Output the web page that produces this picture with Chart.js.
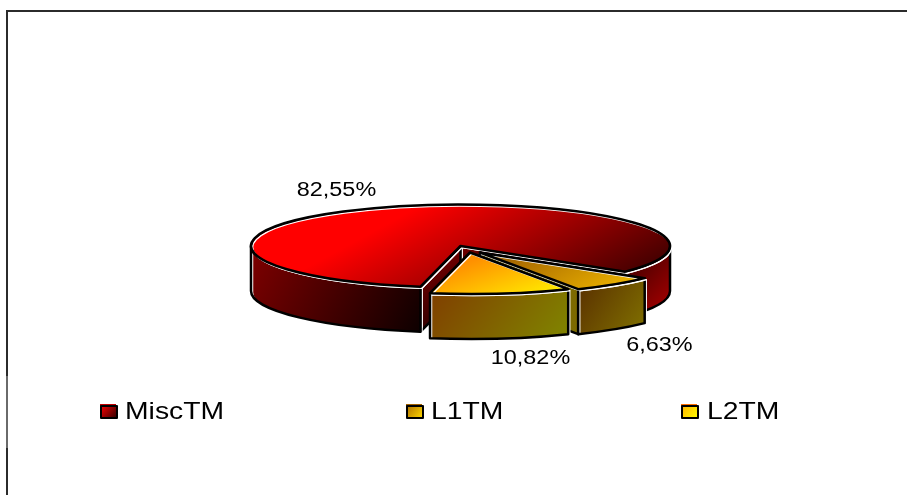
<!DOCTYPE html>
<html>
<head>
<meta charset="utf-8">
<style>
  html, body { margin: 0; padding: 0; background: #fff; }
  #wrap { width: 907px; height: 495px; position: relative; }
</style>
<script src="https://cdn.jsdelivr.net/npm/chart.js@4"></script>
</head>
<body>
<div id="wrap"><canvas id="chart" width="907" height="495"></canvas></div>
<script>
const categories = ['MiscTM', 'L1TM', 'L2TM'];
const shares = [82.55, 6.63, 10.82];

const CX = 460.5, CY = 246, RX = 209.5, RY = 41.5, DEPTH = 45;
const SQUASH = RY / RX;
const FONT = '"Liberation Sans", Arial, sans-serif';

const canvas = document.getElementById('chart');
const c2d = canvas.getContext('2d');

// Screen-space linear gradient, expressed in the unsquashed space the arcs are filled in.
function topGradient(ax, ay, bx, by, from, to) {
  const dx = bx - ax, dy = by - ay, len2 = dx * dx + dy * dy;
  const gx = dx / len2, gy = dy * SQUASH / len2, g2 = gx * gx + gy * gy;
  const y0 = CY + (ay - CY) / SQUASH;
  const g = c2d.createLinearGradient(ax, y0, ax + gx / g2, y0 + gy / g2);
  g.addColorStop(0, from);
  g.addColorStop(1, to);
  return g;
}
function gradient(ax, ay, bx, by, from, to) {
  const g = c2d.createLinearGradient(ax, ay, bx, by);
  g.addColorStop(0, from);
  g.addColorStop(1, to);
  return g;
}

// Slice appearance: pull-out offset in pixels, face fills, label placement.
const sliceStyles = [
  {
    shift: [0, 0],
    top: topGradient(385, 225, 462, 367, '#ff0000', '#460000'),
    walls: [gradient(250, 245, 425, 335, '#800000', '#0a0000'), gradient(640, 270, 672, 300, '#5a0000', '#a00000')],
    cut: gradient(425, 250, 465, 330, '#800000', '#200000'),
    label: [336.5, 190]
  },
  {
    shift: [19.5, 6.5],
    top: topGradient(480, 250, 535, 346, '#a06000', '#ffc800'),
    walls: [gradient(578, 285, 645, 330, '#5a3000', '#807000')],
    cut: '#7d6a00',
    label: [659.5, 345]
  },
  {
    shift: [9.5, 6.5],
    top: topGradient(468, 252, 492.5, 318, '#ff9000', '#ffff00'),
    walls: [gradient(432, 295, 530, 370, '#804000', '#808000')],
    cut: '#804000',
    label: [530.5, 358]
  }
];

const legendItems = [
  { box: 100, text: 125, from: '#ff0000', to: '#300000', edge: '#c00000' },
  { box: 406, text: 431, from: '#b07000', to: '#ffd800', edge: '#a06000' },
  { box: 681, text: 707, from: '#ffb000', to: '#ffff00', edge: '#ff7000' }
];
const LABEL_STRETCH = 1.17;
const LEGEND_STRETCH = 1.18;

// Parts of [start, end] that lie on the near half of the rim.
function nearRanges(start, end) {
  const out = [];
  for (let k = 0; k < 3; k++) {
    const a = Math.max(start, k * 2 * Math.PI), b = Math.min(end, k * 2 * Math.PI + Math.PI);
    if (b > a) out.push([a, b]);
  }
  return out;
}

function outline(ctx, buildPath, width) {
  ctx.save();
  ctx.lineJoin = 'round';
  ctx.translate(1.5, 1.5);
  buildPath();
  ctx.strokeStyle = '#fff';
  ctx.lineWidth = 1.5;
  ctx.stroke();
  ctx.restore();
  buildPath();
  ctx.lineJoin = 'round';
  ctx.strokeStyle = '#000';
  ctx.lineWidth = width;
  ctx.stroke();
}

function paintFace(ctx, buildPath, fill, width) {
  buildPath();
  ctx.fillStyle = fill;
  ctx.fill();
  outline(ctx, buildPath, width);
}

function drawCutWall(ctx, c, r, angle, fill) {
  const ex = c.x + Math.cos(angle) * r, ey = c.y + Math.sin(angle) * r * SQUASH;
  paintFace(ctx, () => {
    ctx.beginPath();
    ctx.moveTo(c.x, c.y);
    ctx.lineTo(ex, ey);
    ctx.lineTo(ex, ey + DEPTH);
    ctx.lineTo(c.x, c.y + DEPTH);
    ctx.closePath();
  }, fill, 2.5);
}

function drawSlice(ctx, el, style, cutAngle) {
  const c = { x: el.x + style.shift[0], y: CY + style.shift[1] };
  const r = el.outerRadius;
  const ry = r * SQUASH;

  cutAngle.forEach(a => drawCutWall(ctx, c, r, a, style.cut));

  nearRanges(el.startAngle, el.endAngle).forEach(([a, b], i) => {
    paintFace(ctx, () => {
      ctx.beginPath();
      ctx.ellipse(c.x, c.y, r, ry, 0, a, b);
      ctx.ellipse(c.x, c.y + DEPTH, r, ry, 0, b, a, true);
      ctx.closePath();
    }, style.walls[Math.min(i, style.walls.length - 1)], 2.5);
  });

  // The top face is the library's own arc element, drawn through a flattening transform.
  ctx.save();
  ctx.translate(c.x - el.x, c.y);
  ctx.scale(1, SQUASH);
  ctx.translate(0, -el.y);
  el.draw(ctx);
  ctx.restore();

  outline(ctx, () => {
    ctx.beginPath();
    ctx.moveTo(c.x, c.y);
    ctx.ellipse(c.x, c.y, r, ry, 0, el.startAngle, el.endAngle);
    ctx.closePath();
  }, 2.5);
}

function stretchedText(ctx, text, x, y, size, align, stretch) {
  ctx.save();
  ctx.translate(x, y);
  ctx.scale(stretch, 1);
  ctx.font = size + 'px ' + FONT;
  ctx.fillStyle = '#000';
  ctx.textAlign = align;
  ctx.textBaseline = 'middle';
  ctx.fillText(text, 0, 0);
  ctx.restore();
}

const tiltedPie = {
  id: 'tiltedPie',
  beforeDatasetsDraw(chart) {
    const ctx = chart.ctx;
    const arcs = chart.getDatasetMeta(0).data;
    // Back to front: the large slice first, then the pulled-out wedges.
    drawSlice(ctx, arcs[0], sliceStyles[0], [arcs[0].endAngle, arcs[0].startAngle]);
    drawSlice(ctx, arcs[1], sliceStyles[1], [arcs[1].endAngle]);
    drawSlice(ctx, arcs[2], sliceStyles[2], []);
    return false;
  },
  afterDraw(chart) {
    const ctx = chart.ctx;
    // Frame: only the top and left edges are ruled.
    ctx.save();
    ctx.fillStyle = '#2b2b2b';
    ctx.fillRect(6, 10, 901, 2);
    ctx.fillRect(6, 10, 2, 485);
    ctx.fillStyle = '#6a6a6a';
    ctx.fillRect(6, 376, 2, 72);
    ctx.restore();

    shares.forEach((v, i) => {
      const [x, y] = sliceStyles[i].label;
      stretchedText(ctx, v.toFixed(2).replace('.', ',') + '%', x, y, 20, 'center', LABEL_STRETCH);
    });

    categories.forEach((name, i) => {
      const it = legendItems[i];
      ctx.fillStyle = it.edge;
      ctx.fillRect(it.box, 404, 16, 13);
      ctx.fillStyle = gradient(it.box, 406, it.box + 16, 419, it.from, it.to);
      ctx.fillRect(it.box + 1, 406, 16, 12);
      ctx.strokeStyle = '#000';
      ctx.lineWidth = 2;
      ctx.strokeRect(it.box + 1, 406, 16, 12);
      stretchedText(ctx, name, it.text, 412, 24, 'left', LEGEND_STRETCH);
    });
  }
};

new Chart(canvas, {
  type: 'pie',
  data: {
    labels: categories,
    datasets: [{
      data: shares,
      backgroundColor: sliceStyles.map(s => s.top),
      borderWidth: 0
    }]
  },
  options: {
    responsive: false,
    animation: false,
    rotation: 191,
    radius: RX,
    events: [],
    layout: { padding: { left: Math.max(CX * 2 - 907, 0), right: Math.max(907 - CX * 2, 0), top: Math.max(CY * 2 - 495, 0), bottom: Math.max(495 - CY * 2, 0) } },
    plugins: { legend: { display: false }, tooltip: { enabled: false } }
  },
  plugins: [tiltedPie]
});
</script>
</body>
</html>
